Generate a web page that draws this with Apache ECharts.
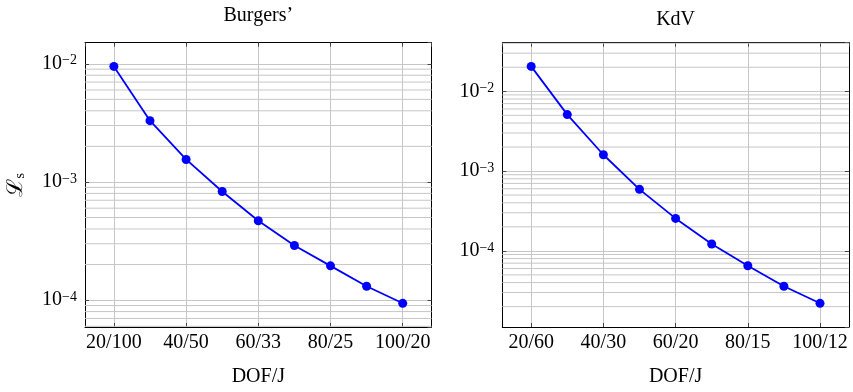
<!DOCTYPE html>
<html>
<head>
<meta charset="utf-8">
<script src="https://cdn.jsdelivr.net/npm/echarts@6/dist/echarts.min.js"></script>
<style>
  html, body { margin: 0; padding: 0; background: #fff; }
  #chart { width: 853px; height: 392px; }
</style>
</head>
<body>
<div id="chart"></div>
<script>
// Degrees of freedom per run (x positions of the points)
const dof = [20, 30, 40, 50, 60, 70, 80, 90, 100];
// Loss values for each equation
const burgersLoss = [9.5e-3, 3.30e-3, 1.55e-3, 8.3e-4, 4.7e-4, 2.9e-4, 1.95e-4, 1.31e-4, 9.4e-5];
const kdvLoss = [2.05e-2, 5.1e-3, 1.6e-3, 5.9e-4, 2.55e-4, 1.22e-4, 6.5e-5, 3.6e-5, 2.2e-5];
// Labelled ticks: DOF value and the matching J
const tickDOF = [20, 40, 60, 80, 100];
const burgersJ = [100, 50, 33, 25, 20];
const kdvJ = [60, 30, 20, 15, 12];
const titles = ['Burgers\u2019', 'KdV'];

const SERIF = "'Liberation Serif', 'DejaVu Serif', serif";
const GRID_COLOR = '#c6c6c6';
const TICK_COLOR = '#444';
const BLUE = '#0000ff';

// 10% padding around the data range (log space for y)
function linLimits(arr) {
  const lo = Math.min(...arr), hi = Math.max(...arr), pad = (hi - lo) * 0.1;
  return [lo - pad, hi + pad];
}
function logLimits(arr) {
  const l = arr.map(Math.log10);
  const lo = Math.min(...l), hi = Math.max(...l), pad = (hi - lo) * 0.1;
  return [Math.pow(10, lo - pad), Math.pow(10, hi + pad)];
}
// 2..9 × 10^k values inside the range, for the minor grid
function minorValues(lim) {
  const out = [];
  for (let e = Math.floor(Math.log10(lim[0])); e <= Math.ceil(Math.log10(lim[1])); e++) {
    for (let k = 2; k <= 9; k++) {
      const v = k * Math.pow(10, e);
      if (v > lim[0] && v < lim[1]) out.push(v);
    }
  }
  return out;
}
function powLabel(v) {
  const e = Math.log10(v), r = Math.round(e);
  if (Math.abs(e - r) > 1e-6) return '';
  return '{b|10}{s|' + (r < 0 ? '\u2212' : '') + Math.abs(r) + '}';
}

const panels = [
  { left: 85, loss: burgersLoss, J: burgersJ, title: titles[0], titleTop: 6, yName: true },
  { left: 502.3, loss: kdvLoss, J: kdvJ, title: titles[1], titleTop: 10, yName: false }
];
const gridTop = 42.7, gridW = 346.6, gridH = 287.3;
const xLim = linLimits(dof);

const option = { animation: false, title: [], grid: [], xAxis: [], yAxis: [], series: [] };

panels.forEach((p, i) => {
  const yLim = logLimits(p.loss);
  option.title.push({
    text: p.title, left: p.left + gridW / 2, top: p.titleTop, textAlign: 'center', padding: 0,
    textStyle: { fontFamily: SERIF, fontSize: 20, fontWeight: 'normal', color: '#000' }
  });
  option.grid.push({ left: p.left, top: gridTop, width: gridW, height: gridH });

  const baseX = {
    type: 'value', gridIndex: i, min: xLim[0], max: xLim[1], splitNumber: 5,
    axisLine: { show: true, onZero: false, lineStyle: { color: '#000', width: 1 } },
    axisTick: { show: true, inside: true, length: 4, lineStyle: { color: TICK_COLOR } }
  };
  option.xAxis.push(Object.assign({}, baseX, {
    position: 'bottom',
    splitLine: { show: true, showMinLine: false, showMaxLine: false, lineStyle: { color: GRID_COLOR, width: 1 } },
    axisLabel: {
      margin: 6, showMinLabel: false, showMaxLabel: false,
      fontFamily: SERIF, fontSize: 20, color: '#000',
      formatter: v => { const k = tickDOF.indexOf(v); return k < 0 ? '' : v + '/' + p.J[k]; }
    },
    name: 'DOF/J', nameLocation: 'middle', nameGap: 40,
    nameTextStyle: { fontFamily: SERIF, fontSize: 20, color: '#000' }
  }));
  option.xAxis.push(Object.assign({}, baseX, {
    position: 'top', splitLine: { show: false }, axisLabel: { show: false }
  }));

  const baseY = {
    type: 'log', logBase: 10, gridIndex: i, min: yLim[0], max: yLim[1], splitNumber: 2,
    axisLine: { show: true, onZero: false, lineStyle: { color: '#000', width: 1 } },
    axisTick: { show: true, inside: true, length: 4, lineStyle: { color: TICK_COLOR } }
  };
  option.yAxis.push(Object.assign({}, baseY, {
    position: 'left',
    splitLine: { show: true, showMinLine: false, showMaxLine: false, lineStyle: { color: GRID_COLOR, width: 1 } },
    axisLabel: {
      margin: 8, showMinLabel: false, showMaxLabel: false, formatter: powLabel,
      rich: {
        b: { fontFamily: SERIF, fontSize: 20, lineHeight: 20, color: '#000' },
        s: { fontFamily: SERIF, fontSize: 14, lineHeight: 10, verticalAlign: 'top', color: '#000' }
      }
    },
    name: p.yName ? '{l|\u2112}{sub|s}' : '', nameLocation: 'middle', nameGap: 58, nameRotate: 90,
    nameTextStyle: {
      rich: {
        l: { fontFamily: SERIF, fontSize: 22, lineHeight: 22, color: '#000' },
        sub: { fontFamily: SERIF, fontSize: 14, lineHeight: 8, verticalAlign: 'bottom', color: '#000' }
      }
    }
  }));
  option.yAxis.push(Object.assign({}, baseY, {
    position: 'right', splitLine: { show: false }, axisLabel: { show: false }
  }));

  // minor horizontal grid lines at 2..9 × 10^k, spanning the x range
  minorValues(yLim).forEach(v => {
    option.series.push({
      type: 'line', xAxisIndex: 2 * i, yAxisIndex: 2 * i, z: 1, silent: true,
      data: [[xLim[0], v], [xLim[1], v]], symbol: 'none',
      lineStyle: { color: GRID_COLOR, width: 1 }, emphasis: { disabled: true }
    });
  });
  option.series.push({
    type: 'line', xAxisIndex: 2 * i, yAxisIndex: 2 * i, z: 5,
    data: dof.map((d, k) => [d, p.loss[k]]),
    symbol: 'circle', symbolSize: 9, showSymbol: true,
    lineStyle: { color: BLUE, width: 1.8 },
    itemStyle: { color: BLUE, borderWidth: 0 }
  });
});

const chart = echarts.init(document.getElementById('chart'), null, { renderer: 'canvas' });
chart.setOption(option);
</script>
</body>
</html>
